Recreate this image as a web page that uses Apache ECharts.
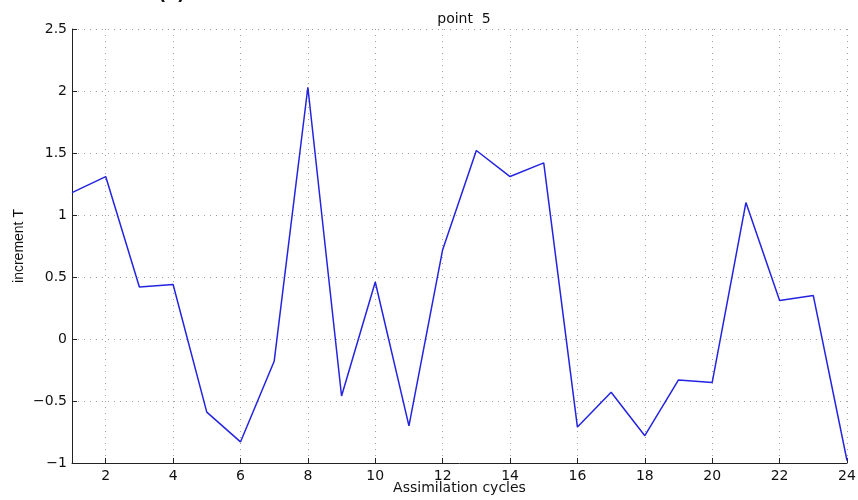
<!DOCTYPE html>
<html>
<head>
<meta charset="utf-8">
<script src="https://cdn.jsdelivr.net/npm/echarts@6/dist/echarts.min.js"></script>
<style>
  html, body { margin: 0; padding: 0; background: #fff; }
  #chart { width: 858px; height: 500px; }
</style>
</head>
<body>
<div id="chart"></div>
<script>
// Assimilation cycle numbers along the x axis
const cycles = ['1','2','3','4','5','6','7','8','9','10','11','12',
                '13','14','15','16','17','18','19','20','21','22','23','24'];
// Temperature increment at point 5 for each cycle
const incrementT = [1.18, 1.31, 0.42, 0.44, -0.59, -0.83, -0.18, 2.03, -0.46, 0.46, -0.70, 0.72,
                    1.52, 1.31, 1.42, -0.71, -0.43, -0.78, -0.33, -0.35, 1.10, 0.31, 0.35, -0.98];
// Y axis range and step
const yMin = -1, yMax = 2.5, yStep = 0.5;

const chart = echarts.init(document.getElementById('chart'), null, { renderer: 'canvas' });

const evenCycle = (idx) => idx % 2 === 1;   // show ticks at 2, 4, ..., 24
const tickFont = { fontFamily: 'DejaVu Sans', fontSize: 14, color: '#111' };
const dotted = { color: '#a0a0a0', width: 1, type: [1, 5] };

chart.setOption({
  animation: false,
  backgroundColor: '#fff',
  title: {
    text: 'point  5',
    left: 459, top: 7, textAlign: 'center',
    textStyle: { fontFamily: 'DejaVu Sans', fontSize: 14, fontWeight: 'normal', color: '#111' }
  },
  graphic: [{
    type: 'text', left: 158, top: -14,
    style: { text: '(c)', fontFamily: 'DejaVu Sans', fontSize: 18, fontWeight: 'bold', fill: '#111' }
  }],
  grid: { left: 72, right: 11, top: 29, bottom: 37, containLabel: false, outerBoundsMode: 'none' },
  xAxis: {
    type: 'category',
    data: cycles,
    boundaryGap: false,
    name: 'Assimilation cycles',
    nameLocation: 'middle',
    nameGap: 18,
    nameMoveOverlap: false,
    nameTextStyle: { fontFamily: 'DejaVu Sans', fontSize: 14, color: '#111' },
    axisLine: { onZero: false, lineStyle: { color: '#222', width: 1 } },
    axisTick: { inside: true, length: 5, interval: evenCycle, lineStyle: { color: '#222' } },
    axisLabel: { interval: evenCycle, margin: 6, ...tickFont },
    splitLine: { show: true, interval: evenCycle, lineStyle: dotted }
  },
  yAxis: {
    type: 'value',
    min: yMin, max: yMax, interval: yStep,
    name: 'increment T',
    nameLocation: 'middle',
    nameRotate: 90,
    nameGap: 46,
    nameMoveOverlap: false,
    nameTextStyle: { fontFamily: 'Liberation Sans Narrow, Liberation Sans', fontSize: 14, color: '#111' },
    axisLine: { show: true, onZero: false, lineStyle: { color: '#222', width: 1 } },
    axisTick: { show: true, inside: true, length: 5, lineStyle: { color: '#222' } },
    axisLabel: {
      margin: 5, ...tickFont,
      formatter: (v) => String(v).replace('-', '\u2212')
    },
    splitLine: { show: true, lineStyle: dotted }
  },
  series: [{
    type: 'line',
    data: incrementT,
    showSymbol: false,
    smooth: false,
    lineStyle: { color: '#2424e0', width: 1.5 },
    itemStyle: { color: '#2424e0' }
  }]
});
</script>
</body>
</html>
